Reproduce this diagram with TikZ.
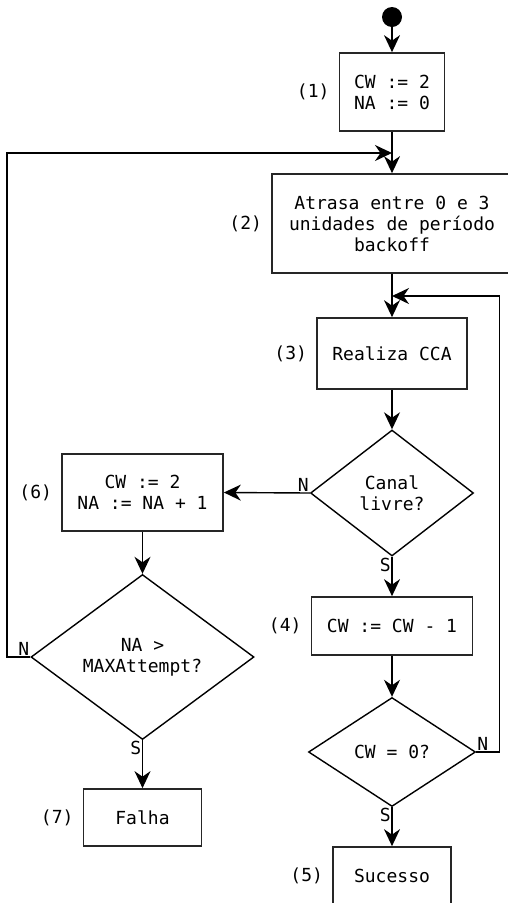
\documentclass[tikz,border=0pt]{standalone}
\usepackage{fontspec}
\setmonofont{DejaVu Sans Mono}
\usetikzlibrary{shapes.geometric,arrows.meta}
\begin{document}
\begin{tikzpicture}[x=1pt,y=-1pt,
  every node/.style={font=\ttfamily\fontsize{18}{21}\selectfont},
  proc/.style={draw,draw=black!85,line width=1.7pt,rectangle,inner sep=0pt,align=center},
  dec/.style={draw,line width=1.4pt,diamond,inner sep=0pt,align=center},
  numlab/.style={anchor=east,inner sep=0pt},
  edgelab/.style={inner sep=1pt},
  arr/.style={line width=1.4pt,-{Stealth[length=17pt,width=16pt,inset=5.5pt]}},
  ln/.style={line width=1.4pt}]
\useasboundingbox (0,0) rectangle (508,903);
\node[circle,fill=black,inner sep=0pt,minimum size=20pt] (start) at (392,17) {};
\node[proc,minimum width=105pt,minimum height=78pt] (b1) at (392,92) {CW := 2\\NA := 0};
\node[proc,minimum width=240pt,minimum height=99pt] (b2) at (392,223.5) {Atrasa entre 0 e 3\\unidades de período\\backoff};
\node[proc,minimum width=150pt,minimum height=71pt] (b3) at (392,353.5) {Realiza CCA};
\node[dec,minimum width=163pt,minimum height=126pt] (d1) at (392,493) {Canal\\livre?};
\node[proc,minimum width=161pt,minimum height=58pt] (b4) at (392,626) {CW := CW - 1};
\node[dec,minimum width=167pt,minimum height=109pt] (d2) at (392,752) {CW = 0?};
\node[proc,minimum width=118pt,minimum height=57pt] (b5) at (392,875.5) {Sucesso};
\node[proc,minimum width=161pt,minimum height=77pt] (b6) at (142.5,492.5) {CW := 2\\NA := NA + 1};
\node[dec,minimum width=223pt,minimum height=165pt] (d3) at (142.5,657) {NA >\\MAXAttempt?};
\node[proc,minimum width=118pt,minimum height=57pt] (b7) at (142.5,817.5) {Falha};

\node[numlab] (l1) at ([xshift=-9pt]b1.west) {(1)};
\node[numlab] (l2) at ([xshift=-9pt]b2.west) {(2)};
\node[numlab] (l3) at ([xshift=-9pt]b3.west) {(3)};
\node[numlab] (l4) at ([xshift=-9pt]b4.west) {(4)};
\node[numlab] (l5) at ([xshift=-9pt]b5.west) {(5)};
\node[numlab] (l6) at ([xshift=-9pt]b6.west) {(6)};
\node[numlab] (l7) at ([xshift=-9pt]b7.west) {(7)};

\coordinate (j1) at (392,153);
\coordinate (j2) at (392,296);

\draw[arr] (start) -- (b1);
\draw[arr] (b1) -- (b2);
\draw[arr] (b2) -- (b3);
\draw[arr] (b3) -- (d1);
\draw[arr] (d1) -- (b4);
\draw[arr] (b4) -- (d2);
\draw[arr] (d2) -- (b5);
\draw[arr] (d1.west) -- (b6.east);
\draw[arr] (b6) -- (d3);
\draw[arr] (d3) -- (b7);
\draw[arr] (d3.west) -- ++(-23.5,0) |- (j1);
\draw[arr] (d2.east) -- ++(23,0) |- (j2);

\node[edgelab,anchor=south east] (n1) at (d1.west) {N};
\node[edgelab,anchor=north east] (s1) at (d1.south) {S};
\node[edgelab,anchor=south west] (n2) at (d2.east) {N};
\node[edgelab,anchor=north east] (s2) at (d2.south) {S};
\node[edgelab,anchor=south east] (n3) at (d3.west) {N};
\node[edgelab,anchor=north east] (s3) at (d3.south) {S};
\end{tikzpicture}
\end{document}
